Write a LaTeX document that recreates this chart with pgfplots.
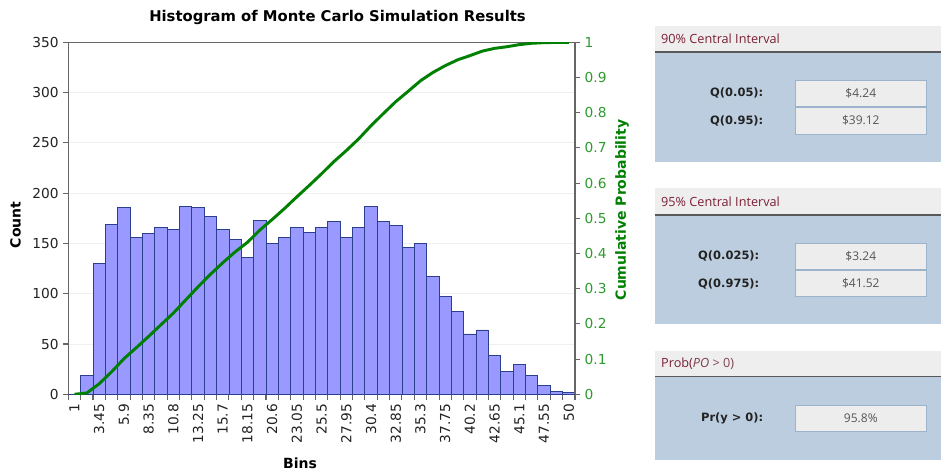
\documentclass[border=0pt]{standalone}
\usepackage{pgfplots}
\pgfplotsset{compat=1.18}
\usepackage{pgfplotstable}
\usepackage{fontspec}
\setmainfont{DejaVu Sans}
\newfontfamily\panelfont{Open Sans}
\definecolor{barfill}{HTML}{9999FF}
\definecolor{baredge}{HTML}{2B3F8C}
\definecolor{cumgreen}{HTML}{008000}
\definecolor{ticgreen}{HTML}{2E9B2E}
\definecolor{axgray}{HTML}{666666}
\definecolor{gridc}{HTML}{EFEFEF}
\definecolor{panelblue}{HTML}{BBCDDE}
\definecolor{headgray}{HTML}{EEEEEE}
\definecolor{boxgray}{HTML}{EDEDED}
\definecolor{boxedge}{HTML}{9DB3CC}
\definecolor{maroon}{HTML}{7B1F35}
\definecolor{valgray}{HTML}{555555}
\definecolor{labdark}{HTML}{222222}

\pgfplotstableread{
i count cum
0 0 0
1 19 0.0038
2 130 0.0299
3 169 0.0638
4 186 0.1010
5 156 0.1323
6 160 0.1644
7 166 0.1977
8 164 0.2306
9 187 0.2680
10 186 0.3053
11 177 0.3408
12 164 0.3737
13 154 0.4046
14 136 0.4318
15 173 0.4665
16 150 0.4966
17 156 0.5279
18 166 0.5611
19 161 0.5934
20 166 0.6267
21 172 0.6612
22 156 0.6925
23 166 0.7257
24 187 0.7632
25 172 0.7977
26 168 0.8314
27 146 0.8607
28 150 0.8907
29 117 0.9142
30 97 0.9336
31 82 0.9501
32 60 0.9621
33 64 0.9749
34 39 0.9828
35 23 0.9874
36 30 0.9934
37 19 0.9972
38 9 0.9990
39 3 0.9996
40 2 1.0000
}\histdata

\begin{document}
\begin{tikzpicture}[x=0.75pt,y=0.75pt]
\path[use as bounding box] (0,0) rectangle (941,470);
\fill[white] (0,0) rectangle (941,470);

\begin{axis}[
  at={(51.225pt,56.775pt)}, anchor=south west,
  width=380pt, height=264pt, scale only axis,
  xmin=-0.5, xmax=40.5, ymin=0, ymax=350,
  ytick={0,50,...,350},
  ymajorgrids, grid style={gridc, line width=0.6pt},
  xtick={0,2,...,40},
  xticklabels={1,3.45,5.9,8.35,10.8,13.25,15.7,18.15,20.6,23.05,25.5,27.95,30.4,32.85,35.3,37.75,40.2,42.65,45.1,47.55,50},
  minor xtick={-0.5,0.5,...,40.5},
  major x tick style={draw=none},
  minor tick length=4pt,
  major tick length=3.75pt,
  tick align=outside,
  xtick pos=bottom, ytick pos=left,
  tick style={axgray, line width=0.8pt},
  axis line style={axgray, line width=1.1pt},
  /pgf/number format/assume math mode=true,
  ticklabel style={font=\fontsize{10.3}{12}\selectfont, text=labdark},
  xticklabel style={rotate=90, anchor=east},
]
\addplot[ybar, bar width=1, fill=barfill, draw=baredge, line width=0.6pt] table[x=i, y=count]{\histdata};
\end{axis}

\begin{axis}[
  at={(51.225pt,56.775pt)}, anchor=south west,
  width=380pt, height=264pt, scale only axis,
  xmin=-0.5, xmax=40.5, ymin=0, ymax=1,
  axis x line=none,
  axis y line*=right,
  ytick={0,0.1,0.2,0.3,0.4,0.5,0.6,0.7,0.8,0.9,1},
  yticklabels={0,0.1,0.2,0.3,0.4,0.5,0.6,0.7,0.8,0.9,1},
  tick align=outside,
  major tick length=3.75pt,
  tick style={axgray, line width=0.8pt},
  axis line style={axgray, line width=1.1pt},
  yticklabel style={font=\fontsize{10.3}{12}\selectfont, text=ticgreen},
]
\addplot[cumgreen, line width=2.2pt, line join=round, mark=none] table[x=i, y=cum]{\histdata};
\end{axis}

% titles and labels
\node[font=\fontsize{11.1}{13}\selectfont\bfseries, text=black] at (337.5,452.5) {Histogram of Monte Carlo Simulation Results};
\node[font=\fontsize{10.5}{12}\selectfont\bfseries, rotate=90] at (15.5,245) {Count};
\node[font=\fontsize{10.5}{12}\selectfont\bfseries] at (300,7) {Bins};
\node[font=\fontsize{10.5}{12}\selectfont\bfseries, rotate=90, text=cumgreen] at (622,260) {Cumulative Probability};

% Panel 1
\fill[headgray] (655,444) rectangle (941,417.7);
\fill[panelblue] (655,417.7) rectangle (941,308.3);
\draw[gray!70!black, line width=1.2pt] (655,418) -- (941,418);
\node[anchor=west, font=\panelfont\fontsize{9.5}{11}\selectfont, text=maroon] at (656.5,430.8) {90\% Central Interval};
\filldraw[fill=boxgray, draw=boxedge, line width=0.4pt] (795,390) rectangle (926.7,363.3);
\filldraw[fill=boxgray, draw=boxedge, line width=0.4pt] (795,362.7) rectangle (926.7,336);
\node[anchor=east, font=\fontsize{8.6}{10}\selectfont\bfseries, text=labdark] at (768,376.7) {Q(0.05):};
\node[anchor=east, font=\fontsize{8.6}{10}\selectfont\bfseries, text=labdark] at (768,349.3) {Q(0.95):};
\node[font=\panelfont\fontsize{9}{10}\selectfont, text=valgray] at (860.8,376.7) {\$4.24};
\node[font=\panelfont\fontsize{9}{10}\selectfont, text=valgray] at (860.8,349.3) {\$39.12};

% Panel 2
\fill[headgray] (655,281.7) rectangle (941,255);
\fill[panelblue] (655,255) rectangle (941,146);
\draw[gray!70!black, line width=1.2pt] (655,255) -- (941,255);
\node[anchor=west, font=\panelfont\fontsize{9.5}{11}\selectfont, text=maroon] at (656.5,268.3) {95\% Central Interval};
\filldraw[fill=boxgray, draw=boxedge, line width=0.4pt] (795,226.7) rectangle (926.7,200.7);
\filldraw[fill=boxgray, draw=boxedge, line width=0.4pt] (795,199.3) rectangle (926.7,173.3);
\node[anchor=east, font=\fontsize{8.6}{10}\selectfont\bfseries, text=labdark] at (764,213.7) {Q(0.025):};
\node[anchor=east, font=\fontsize{8.6}{10}\selectfont\bfseries, text=labdark] at (764,186.3) {Q(0.975):};
\node[font=\panelfont\fontsize{9}{10}\selectfont, text=valgray] at (860.8,213.7) {\$3.24};
\node[font=\panelfont\fontsize{9}{10}\selectfont, text=valgray] at (860.8,186.3) {\$41.52};

% Panel 3
\fill[headgray] (655,119.3) rectangle (941,93.3);
\fill[panelblue] (655,93.3) rectangle (941,10);
\draw[gray!70!black, line width=1.2pt] (655,93.3) -- (941,93.3);
\node[anchor=west, font=\panelfont\fontsize{9.5}{11}\selectfont, text=maroon] at (656.5,106.3) {Prob(\textcolor{maroon!70!gray}{\itshape PO}\textcolor{maroon!60!gray}{\ \textgreater\ 0)}};
\filldraw[fill=boxgray, draw=boxedge, line width=0.4pt] (795,65) rectangle (926.7,38.3);
\node[anchor=east, font=\fontsize{8.6}{10}\selectfont\bfseries, text=labdark] at (768,51.7) {Pr(y > 0):};
\node[font=\panelfont\fontsize{9}{10}\selectfont, text=valgray] at (860.8,51.7) {95.8\%};
\end{tikzpicture}
\end{document}
